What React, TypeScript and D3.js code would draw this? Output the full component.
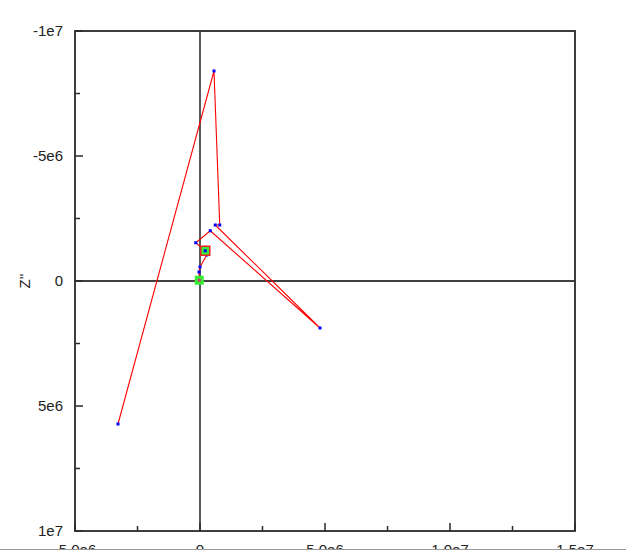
import React from "react";
import * as d3 from "d3";

const zReal = [-3e4, -4e4, 0, 2.7e5, 2.1e5, -1.7e5, 4.1e5, 4.8e6, 6.1e5, 7.9e5, 5.6e5, -3.28e6];
const zImag = [-3e4, -3.6e5, -5.6e5, -1.04e6, -1.21e6, -1.53e6, -2.01e6, 1.88e6, -2.24e6, -2.24e6, -8.4e6, 5.72e6];
const xMajorTicks = [-5e6, 0, 5e6, 1e7, 1.5e7];
const xTickLabels = ["-5.0e6", "0", "5.0e6", "1.0e7", "1.5e7"];
const xMinorTicks = [-2.5e6, 2.5e6, 7.5e6, 1.25e7];
const yMajorTicks = [-1e7, -5e6, 0, 5e6, 1e7];
const yTickLabels = ["-1e7", "-5e6", "0", "5e6", "1e7"];
const yMinorTicks = [-7.5e6, -2.5e6, 2.5e6, 7.5e6];
const startIndex = 0;
const highlightIndex = 4;

export default function App() {
  const W = 626, H = 552;
  const L = 75, R = 575, T = 31, B = 531;
  const x = d3.scaleLinear().domain([-5e6, 1.5e7]).range([L, R]);
  const y = d3.scaleLinear().domain([-1e7, 1e7]).range([T, B]);
  const pts = zReal.map((v, i) => [v, zImag[i]] as [number, number]);
  const line = d3.line<[number, number]>().x(d => x(d[0])).y(d => y(d[1]));
  const font = "'Liberation Sans', Arial, sans-serif";
  return (
    <svg width={W} height={H} style={{ position: "absolute", left: 0, top: 0, background: "#fff" }}>
      <rect x={0} y={0} width={W} height={H} fill="#fff" />
      {/* zero lines */}
      <line x1={x(0)} x2={x(0)} y1={T} y2={B} stroke="#000" strokeWidth={1.3} />
      <line x1={L} x2={R} y1={y(0)} y2={y(0)} stroke="#000" strokeWidth={1.3} />
      {/* data */}
      <path d={line(pts) || ""} fill="none" stroke="#ff0000" strokeWidth={1.1} />
      {pts.map((p, i) => (
        <rect key={i} x={x(p[0]) - 1.5} y={y(p[1]) - 1.5} width={3} height={3} fill="#0000ff" />
      ))}
      <rect x={x(pts[startIndex][0]) - 4.5} y={y(pts[startIndex][1]) - 4.5} width={9} height={9} fill="#33ee33" />
      <rect x={x(pts[startIndex][0]) - 1.5} y={y(pts[startIndex][1]) - 1.5} width={3} height={3} fill="#dd3377" />
      <rect x={x(pts[highlightIndex][0]) - 4.5} y={y(pts[highlightIndex][1]) - 4.5} width={9} height={9} fill="#33ee33" stroke="#ee2222" strokeWidth={1.5} />
      <rect x={x(pts[highlightIndex][0]) - 1.5} y={y(pts[highlightIndex][1]) - 1.5} width={3} height={3} fill="#0000ff" />
      {/* frame */}
      <rect x={L} y={T} width={R - L} height={B - T} fill="none" stroke="#2a2a2a" strokeWidth={1.8} />
      {/* y ticks */}
      {yMajorTicks.map((t, i) => (
        <g key={"ym" + i}>
          <line x1={L} x2={L + 8} y1={y(t)} y2={y(t)} stroke="#2a2a2a" strokeWidth={1.5} />
          <text x={63} y={y(t)} dy="0.35em" textAnchor="end" fontFamily={font} fontSize={15} fill="#222">{yTickLabels[i]}</text>
        </g>
      ))}
      {yMinorTicks.map((t, i) => (
        <line key={"yn" + i} x1={L} x2={L + 5} y1={y(t)} y2={y(t)} stroke="#2a2a2a" strokeWidth={1.5} />
      ))}
      {/* x ticks */}
      {xMajorTicks.map((t, i) => (
        <g key={"xm" + i}>
          <line x1={x(t)} x2={x(t)} y1={B} y2={B - 8} stroke="#2a2a2a" strokeWidth={1.5} />
          <text x={x(t)} y={555} textAnchor="middle" fontFamily={font} fontSize={15} fill="#222">{xTickLabels[i]}</text>
        </g>
      ))}
      {xMinorTicks.map((t, i) => (
        <line key={"xn" + i} x1={x(t)} x2={x(t)} y1={B} y2={B - 5} stroke="#2a2a2a" strokeWidth={1.5} />
      ))}
      {/* bottom clipping strip */}
      <rect x={0} y={550} width={W} height={2} fill="#fff" />
      <line x1={0} x2={W} y1={549.5} y2={549.5} stroke="#999" strokeWidth={1} />
      {/* axis title */}
      <text transform={`translate(30, ${y(0)}) rotate(-90)`} textAnchor="middle" fontFamily={font} fontSize={15} fill="#222">Z''</text>
    </svg>
  );
}
